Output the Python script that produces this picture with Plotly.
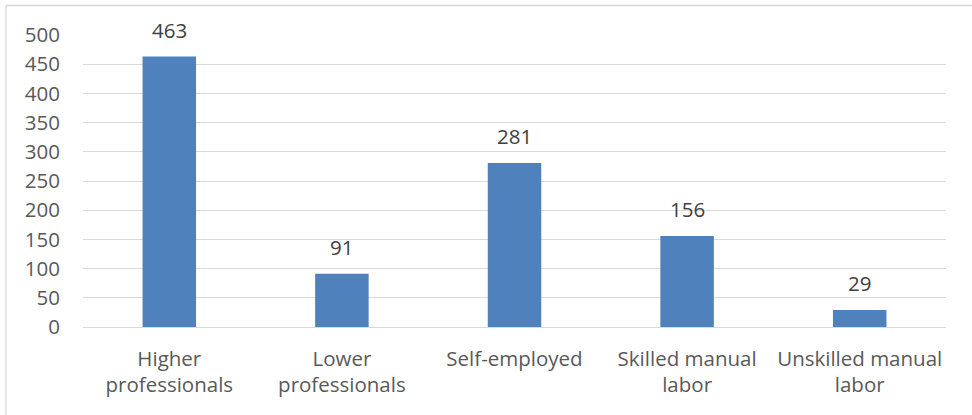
import plotly.graph_objects as go

categories = ["Higher<br>professionals", "Lower<br>professionals", "Self-employed",
              "Skilled manual<br>labor", "Unskilled manual<br>labor"]
counts = [463, 91, 281, 156, 29]
y_ticks = [0, 50, 100, 150, 200, 250, 300, 350, 400, 450, 500]

W, H = 972, 415
L, R, T, B = 83, 26, 35, 88

FONT = "Open Sans"
FS = 20.5
BAR = "#4F81BD"

fig = go.Figure()
fig.add_trace(go.Bar(x=categories, y=counts, marker=dict(color=BAR, line=dict(width=0)),
                     width=0.31, hoverinfo="x+y"))

# value labels sitting above each bar
for c, v in zip(categories, counts):
    fig.add_annotation(x=c, y=v, text=str(v), showarrow=False, yanchor="bottom",
                       yshift=11, font=dict(family=FONT, size=FS, color="#404040"))

# chart frame (top and left edges visible)
pw, ph = W - L - R, H - T - B
x0 = (6 - L) / pw
y1 = (H - B - 5.5) / ph
fig.add_shape(type="rect", xref="paper", yref="paper", x0=x0, x1=(W + 5 - L) / pw,
              y0=-(B + 10) / ph, y1=y1, line=dict(color="#D9D9D9", width=1.3),
              fillcolor="rgba(0,0,0,0)", layer="below")

fig.update_layout(
    width=W, height=H,
    margin=dict(l=L, r=R, t=T, b=B, pad=0),
    paper_bgcolor="white", plot_bgcolor="white",
    showlegend=False,
    font=dict(family=FONT, size=FS, color="#595959"),
    xaxis=dict(showgrid=False, showline=False, ticks="", zeroline=False,
               tickfont=dict(family=FONT, size=FS, color="#595959"),
               ticklabelstandoff=17),
    yaxis=dict(range=[0, 500], tickvals=y_ticks, showgrid=True, gridcolor="#D9D9D9",
               gridwidth=1.3, zeroline=True, zerolinecolor="#D9D9D9", zerolinewidth=1.3,
               showline=False, ticks="", ticklabelstandoff=22,
               tickfont=dict(family=FONT, size=FS, color="#595959")),
)

fig.write_html("out.html")
